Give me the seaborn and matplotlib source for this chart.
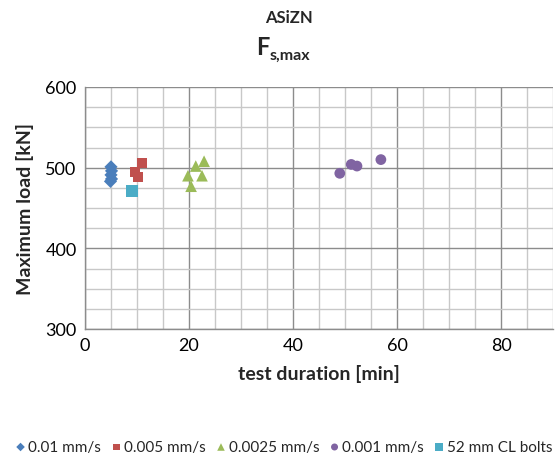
import matplotlib
matplotlib.use("Agg")
import matplotlib.pyplot as plt
from matplotlib.ticker import MultipleLocator
import seaborn as sns
import pandas as pd

# Test results: duration [min] and maximum load [kN] per loading rate
series_names = ["0.01 mm/s", "0.005 mm/s", "0.0025 mm/s", "0.001 mm/s", "52 mm CL bolts"]
dur_001 = [5.0, 5.1, 5.0, 5.1, 4.9]
load_001 = [501, 496, 491, 486, 483]
dur_0005 = [11.0, 9.6, 10.2]
load_0005 = [506, 495, 488]
dur_00025 = [22.9, 21.3, 19.8, 22.5, 20.4]
load_00025 = [508, 502, 490, 490, 477]
dur_0001 = [49.0, 51.2, 52.3, 56.9]
load_0001 = [493, 504, 502, 510]
dur_cl = [9.0]
load_cl = [471]

x_ticks = [0, 20, 40, 60, 80]
y_ticks = [300, 400, 500, 600]

colors = ["#4a7ebb", "#c0504d", "#9bbb59", "#8064a2", "#4bacc6"]
markers = ["D", "s", "^", "o", "s"]
sizes = [45, 55, 70, 60, 70]

frames = []
for name, d, l in zip(series_names,
                      [dur_001, dur_0005, dur_00025, dur_0001, dur_cl],
                      [load_001, load_0005, load_00025, load_0001, load_cl]):
    frames.append(pd.DataFrame({"duration": d, "load": l, "series": name}))
df = pd.concat(frames, ignore_index=True)

sns.set_style("white")
plt.rcParams["font.family"] = ["Lato", "DejaVu Sans"]

fig = plt.figure(figsize=(5.58, 4.56), dpi=100)
ax = fig.add_axes([85 / 558, 1 - 330 / 456, (553 - 85) / 558, (330 - 88) / 456])

for name, c, m, s in zip(series_names, colors, markers, sizes):
    sns.scatterplot(data=df[df["series"] == name], x="duration", y="load",
                    color=c, marker=m, s=s, edgecolor="none", ax=ax,
                    label=name, zorder=3)

ax.set_xlim(0, 90)
ax.set_ylim(300, 600)
ax.set_xticks(x_ticks)
ax.set_yticks(y_ticks)
ax.xaxis.set_minor_locator(MultipleLocator(5))
ax.yaxis.set_minor_locator(MultipleLocator(25))
ax.grid(which="minor", color="#c8c8c8", linewidth=1.0, zorder=0)
ax.grid(which="major", color="#8c8c8c", linewidth=1.0, zorder=1)
ax.set_axisbelow(True)
for side in ["top", "right"]:
    ax.spines[side].set_visible(False)
for side in ["left", "bottom"]:
    ax.spines[side].set_color("#8c8c8c")
    ax.spines[side].set_linewidth(1.0)
ax.tick_params(axis="both", which="major", labelsize=13, length=0, pad=6, colors="#000000")
ax.tick_params(which="minor", length=0)

ax.set_xlabel("test duration [min]", fontsize=14, fontweight="bold", labelpad=8)
ax.set_ylabel("Maximum load [kN]", fontsize=14, fontweight="bold", labelpad=8)

fig.text(289 / 558, 1 - 18 / 456, "ASiZN", ha="center", va="center",
         fontsize=12, fontweight="bold")
fig.text(269 / 558, 1 - 55 / 456, "F", ha="right", va="baseline",
         fontsize=17, fontweight="bold")
fig.text(270 / 558, 1 - 60 / 456, "s,max", ha="left", va="baseline",
         fontsize=11.5, fontweight="bold")

handles, labels = ax.get_legend_handles_labels()
ax.get_legend().remove()
fig.legend(handles, labels, loc="center", bbox_to_anchor=(283 / 558, 1 - 448 / 456),
           ncol=5, frameon=False, fontsize=11, handletextpad=0.05,
           columnspacing=0.55, handlelength=0.9, markerscale=0.65)

fig.savefig("out.png", dpi=100)
